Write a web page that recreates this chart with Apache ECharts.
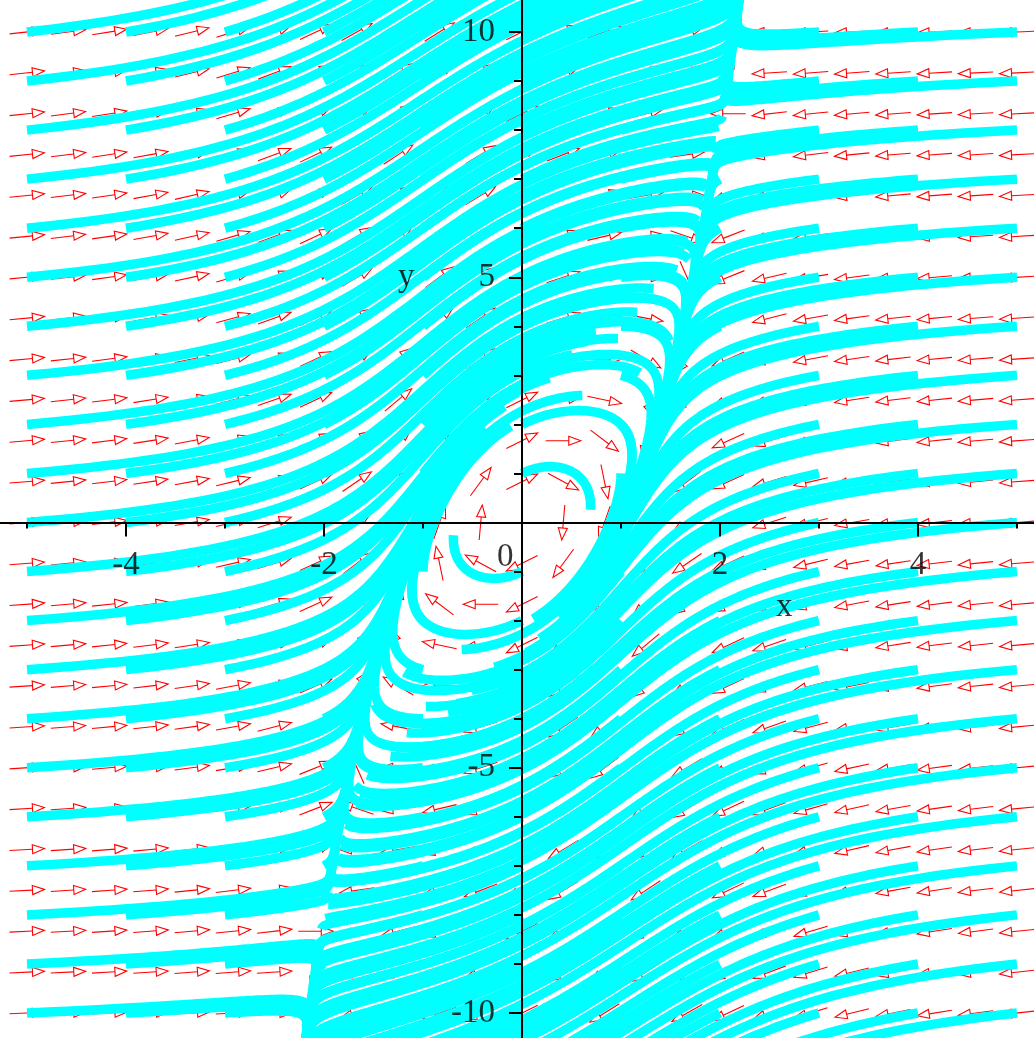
<!DOCTYPE html>
<html><head><meta charset="utf-8">
<script src="https://cdn.jsdelivr.net/npm/echarts@6/dist/echarts.min.js"></script>
<style>html,body{margin:0;padding:0;background:#fff;overflow:hidden}#c{width:1034px;height:1038px}</style>
</head><body><div id="c"></div>
<script>
// Phase portrait: dx/dt = y - x^3 , dy/dt = -4x + y
const dxCoef = [1, -1];   // dx/dt = dxCoef[0]*y + dxCoef[1]*x^3
const dyCoef = [-4, 1];   // dy/dt = dyCoef[0]*x + dyCoef[1]*y
const tSpan = [0, 0.9];

// initial points of the solution curves
const startX = [-5, -4, -3, -2, -1, 0, 1, 2, 3, 4, 5];
const startY = [-10, -9, -8, -7, -6, -5, -4, -3, -2, -1, 0, 1, 2, 3, 4, 5, 6, 7, 8, 9, 10];

// direction-field grid
const arrowX = [-5, -4.583, -4.167, -3.75, -3.333, -2.917, -2.5, -2.083, -1.667, -1.25, -0.833, -0.417, 0,
                0.417, 0.833, 1.25, 1.667, 2.083, 2.5, 2.917, 3.333, 3.75, 4.167, 4.583, 5];
const arrowY = [-10, -9.167, -8.333, -7.5, -6.667, -5.833, -5, -4.167, -3.333, -2.5, -1.667, -0.833, 0,
                0.833, 1.667, 2.5, 3.333, 4.167, 5, 5.833, 6.667, 7.5, 8.333, 9.167, 10];

// tick labels and other texts
const xTickLabels = [-4, -2, 2, 4];
const yTickLabels = [-10, -5, 5, 10];
const textLabels = [[2.65, -1.73, 'x'], [-1.17, 5.0, 'y'], [-0.17, -0.71, '0']];

function field(x, y) {
  return [dxCoef[0] * y + dxCoef[1] * x * x * x, dyCoef[0] * x + dyCoef[1] * y];
}
function trajectory(x0, y0) {
  const h = 0.0005, n = Math.round((tSpan[1] - tSpan[0]) / h);
  let x = x0, y = y0;
  const pts = [[x, y]];
  for (let i = 1; i <= n; i++) {
    const k1 = field(x, y);
    const k2 = field(x + h / 2 * k1[0], y + h / 2 * k1[1]);
    const k3 = field(x + h / 2 * k2[0], y + h / 2 * k2[1]);
    const k4 = field(x + h * k3[0], y + h * k3[1]);
    x += h / 6 * (k1[0] + 2 * k2[0] + 2 * k3[0] + k4[0]);
    y += h / 6 * (k1[1] + 2 * k2[1] + 2 * k3[1] + k4[1]);
    if (i % 4 === 0 || i === n) pts.push([x, y]);
    if (Math.abs(y) > 14 || Math.abs(x) > 7) break;
  }
  return pts;
}

const font = { fontFamily: 'Liberation Serif', fontSize: 33, color: '#000' };
const series = [];
const arrowData = [];
arrowX.forEach(x => arrowY.forEach(y => arrowData.push([x, y])));
series.push({
  type: 'custom', z: 1, silent: true, animation: false, clip: false,
  data: arrowData,
  renderItem: function (params, api) {
    const x = api.value(0), y = api.value(1);
    const p = api.coord([x, y]);
    const s = api.size([1, 1]);
    const f = field(x, y);
    let dx = f[0] * s[0], dy = -f[1] * s[1];
    const L = Math.hypot(dx, dy) || 1;
    dx /= L; dy /= L;
    const len = 35, head = 12, hw = 4.5;
    const tail = [p[0] - dx * len / 2, p[1] - dy * len / 2];
    const tip = [p[0] + dx * len / 2, p[1] + dy * len / 2];
    const base = [tip[0] - dx * head, tip[1] - dy * head];
    const nx = -dy, ny = dx;
    const style = { stroke: '#ff0000', lineWidth: 1.1, fill: null };
    return {
      type: 'group',
      children: [
        { type: 'line', shape: { x1: tail[0], y1: tail[1], x2: base[0], y2: base[1] }, style: style },
        { type: 'polygon', shape: { points: [tip, [base[0] + nx * hw, base[1] + ny * hw], [base[0] - nx * hw, base[1] - ny * hw]] }, style: style }
      ]
    };
  }
});
startX.forEach(x0 => startY.forEach(y0 => {
  series.push({
    type: 'line', z: 3, silent: true, animation: false, showSymbol: false, symbol: 'none',
    data: trajectory(x0, y0),
    lineStyle: { color: '#00ffff', width: 9.5, cap: 'butt', join: 'round' }
  });
}));
series.push({
  type: 'scatter', z: 20, silent: true, animation: false, symbolSize: 0,
  data: textLabels,
  label: Object.assign({ show: true, position: 'inside', formatter: p => p.data[2] }, font)
});
series.push({
  type: 'scatter', z: 20, silent: true, animation: false, symbolSize: 0,
  data: xTickLabels.map(v => [v, 0]),
  label: Object.assign({ show: true, position: 'inside', offset: [0, 43], formatter: p => String(p.data[0]) }, font)
});
series.push({
  type: 'scatter', z: 20, silent: true, animation: false, symbolSize: 0,
  data: yTickLabels.map(v => [0, v]),
  label: Object.assign({ show: true, position: 'inside', align: 'right', offset: [-27, 0], formatter: p => String(p.data[1]) }, font)
});

const chart = echarts.init(document.getElementById('c'), null, { renderer: 'canvas' });
chart.setOption({
  animation: false,
  backgroundColor: '#ffffff',
  grid: { left: -72, top: -213.25, width: 1188, height: 1471.5, containLabel: false, outerBoundsMode: 'none' },
  xAxis: {
    type: 'value', min: -6, max: 6, interval: 2, z: 10,
    axisLine: { onZero: true, lineStyle: { color: '#000', width: 2 } },
    axisTick: { length: 14, lineStyle: { color: '#000', width: 2 } },
    minorTick: { show: true, splitNumber: 2, length: 6, lineStyle: { color: '#000', width: 2 } },
    splitLine: { show: false },
    axisLabel: { show: false }
  },
  yAxis: {
    type: 'value', min: -15, max: 15, interval: 5, z: 10,
    axisLine: { onZero: true, lineStyle: { color: '#000', width: 2 } },
    axisTick: { length: 13, lineStyle: { color: '#000', width: 2 } },
    minorTick: { show: true, splitNumber: 5, length: 8, lineStyle: { color: '#000', width: 2 } },
    splitLine: { show: false },
    axisLabel: { show: false }
  },
  series: series
});
</script></body></html>
